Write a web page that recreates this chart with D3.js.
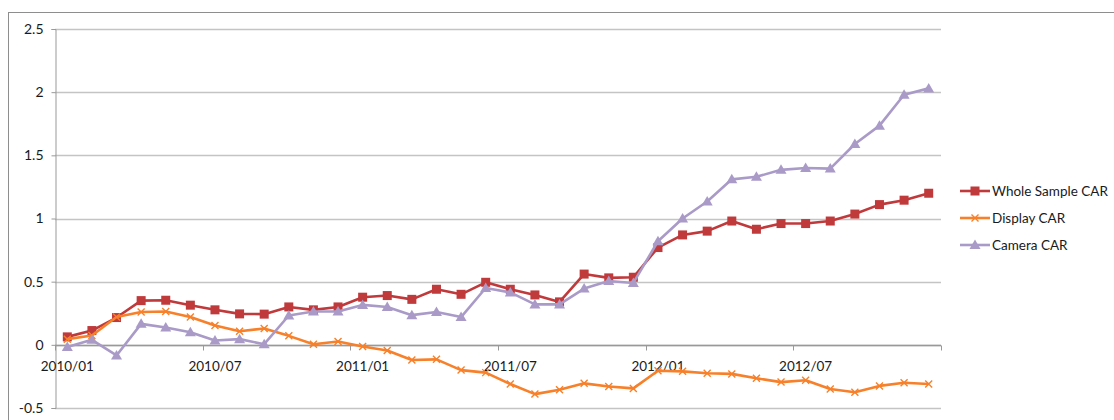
<!DOCTYPE html>
<html><head><meta charset="utf-8">
<script src="https://cdn.jsdelivr.net/npm/d3@7"></script>
<style>body{margin:0;background:#fff}svg{display:block}text{font-family:Lato,"Open Sans",sans-serif;fill:#1a1a1a}</style>
</head><body><svg id="c" width="1114" height="420"></svg>
<script>
const months = [];
for (const yr of [2010, 2011, 2012]) for (let m = 1; m <= 12; m++) months.push(yr + "/" + String(m).padStart(2, "0"));
const seriesNames = ["Whole Sample CAR", "Display CAR", "Camera CAR"];
const wholeSample = [0.063,0.113,0.216,0.35,0.353,0.314,0.277,0.245,0.243,0.30,0.277,0.30,
  0.377,0.39,0.36,0.44,0.40,0.495,0.44,0.395,0.34,0.56,0.53,0.535,
  0.77,0.87,0.90,0.98,0.915,0.96,0.96,0.98,1.035,1.11,1.145,1.20];
const display = [0.045,0.074,0.22,0.26,0.264,0.22,0.153,0.108,0.129,0.071,0.005,0.026,
  -0.013,-0.045,-0.12,-0.115,-0.20,-0.22,-0.31,-0.39,-0.355,-0.305,-0.33,-0.345,
  -0.205,-0.21,-0.225,-0.23,-0.265,-0.295,-0.28,-0.35,-0.375,-0.325,-0.30,-0.31];
const camera = [-0.018,0.04,-0.084,0.166,0.137,0.10,0.034,0.045,0.005,0.232,0.264,0.264,
  0.316,0.30,0.235,0.26,0.22,0.45,0.415,0.32,0.32,0.445,0.505,0.49,
  0.82,1.00,1.135,1.31,1.33,1.385,1.40,1.395,1.59,1.735,1.98,2.03];
const yTicks = [-0.5, 0, 0.5, 1, 1.5, 2, 2.5];
const xLabelEvery = 6;

const colors = ["#C0393B", "#F7802A", "#A99AC8"];
const markers = ["square", "cross", "triangle"];
const data = [wholeSample, display, camera];

const svg = d3.select("#c");
const L = 55, R = 941, T = 29, B = 408;
const x = d3.scaleBand().domain(months).range([L, R]);
const y = d3.scaleLinear().domain([-0.5, 2.5]).range([B, T]);

// outer border
svg.append("rect").attr("x", 8.5).attr("y", 12.5).attr("width", 1130).attr("height", 430)
  .attr("fill", "none").attr("stroke", "#8e8e8e").attr("stroke-width", 1);

// gridlines
svg.append("g").selectAll("line").data(yTicks).join("line")
  .attr("x1", L).attr("x2", R).attr("y1", d => Math.round(y(d)) + 0.5).attr("y2", d => Math.round(y(d)) + 0.5)
  .attr("stroke", "#c4c4c4").attr("stroke-width", 1.3);

// y axis
const yAxis = svg.append("g").attr("transform", `translate(${L + 0.5},0)`)
  .call(d3.axisLeft(y).tickValues(yTicks).tickSize(4).tickPadding(8).tickFormat(d => String(d)));
yAxis.select(".domain").attr("stroke", "#999");
yAxis.selectAll(".tick line").attr("stroke", "#999");
yAxis.selectAll("text").style("font-size", "14px").attr("fill", "#1a1a1a");

// x axis at zero
const zeroY = Math.round(y(0)) + 0.5;
svg.append("line").attr("x1", L).attr("x2", R).attr("y1", zeroY).attr("y2", zeroY).attr("stroke", "#999").attr("stroke-width", 1.3);
const tickIdx = d3.range(0, months.length + 1, xLabelEvery);
svg.append("g").selectAll("line").data(tickIdx).join("line")
  .attr("x1", i => Math.round(L + i * x.step()) + 0.5).attr("x2", i => Math.round(L + i * x.step()) + 0.5)
  .attr("y1", zeroY).attr("y2", zeroY + 5).attr("stroke", "#999");
svg.append("g").selectAll("text").data(months.filter((d, i) => i % xLabelEvery === 0)).join("text")
  .attr("x", d => x(d) + x.bandwidth() / 2).attr("y", zeroY + 25)
  .attr("text-anchor", "middle").style("font-size", "13.5px").text(d => d);

// series
const cx = i => x(months[i]) + x.bandwidth() / 2;
function drawMarker(g, type, color, px, py) {
  if (type === "square") {
    g.append("rect").attr("x", px - 4.5).attr("y", py - 4.5).attr("width", 9).attr("height", 9).attr("fill", color);
  } else if (type === "cross") {
    g.append("path").attr("d", `M${px-3.5},${py-3.5}L${px+3.5},${py+3.5}M${px-3.5},${py+3.5}L${px+3.5},${py-3.5}`)
      .attr("stroke", color).attr("stroke-width", 1.4).attr("fill", "none");
  } else {
    g.append("path").attr("d", `M${px},${py-5.5}L${px+5.5},${py+4}L${px-5.5},${py+4}Z`).attr("fill", color);
  }
}
data.forEach((vals, s) => {
  const g = svg.append("g");
  g.append("path").datum(vals)
    .attr("d", d3.line().x((d, i) => cx(i)).y(d => y(d)))
    .attr("fill", "none").attr("stroke", colors[s]).attr("stroke-width", 2.6).attr("stroke-linejoin", "round");
  vals.forEach((v, i) => drawMarker(g, markers[s], colors[s], cx(i), y(v)));
});

// legend
const legY = [191, 218, 245];
seriesNames.forEach((name, s) => {
  const g = svg.append("g");
  g.append("line").attr("x1", 960).attr("x2", 990).attr("y1", legY[s]).attr("y2", legY[s])
    .attr("stroke", colors[s]).attr("stroke-width", 2.6);
  drawMarker(g, markers[s], colors[s], 975, legY[s]);
  g.append("text").attr("x", 992).attr("y", legY[s] + 5).style("font-size", "13.5px").text(name);
});
</script></body></html>
